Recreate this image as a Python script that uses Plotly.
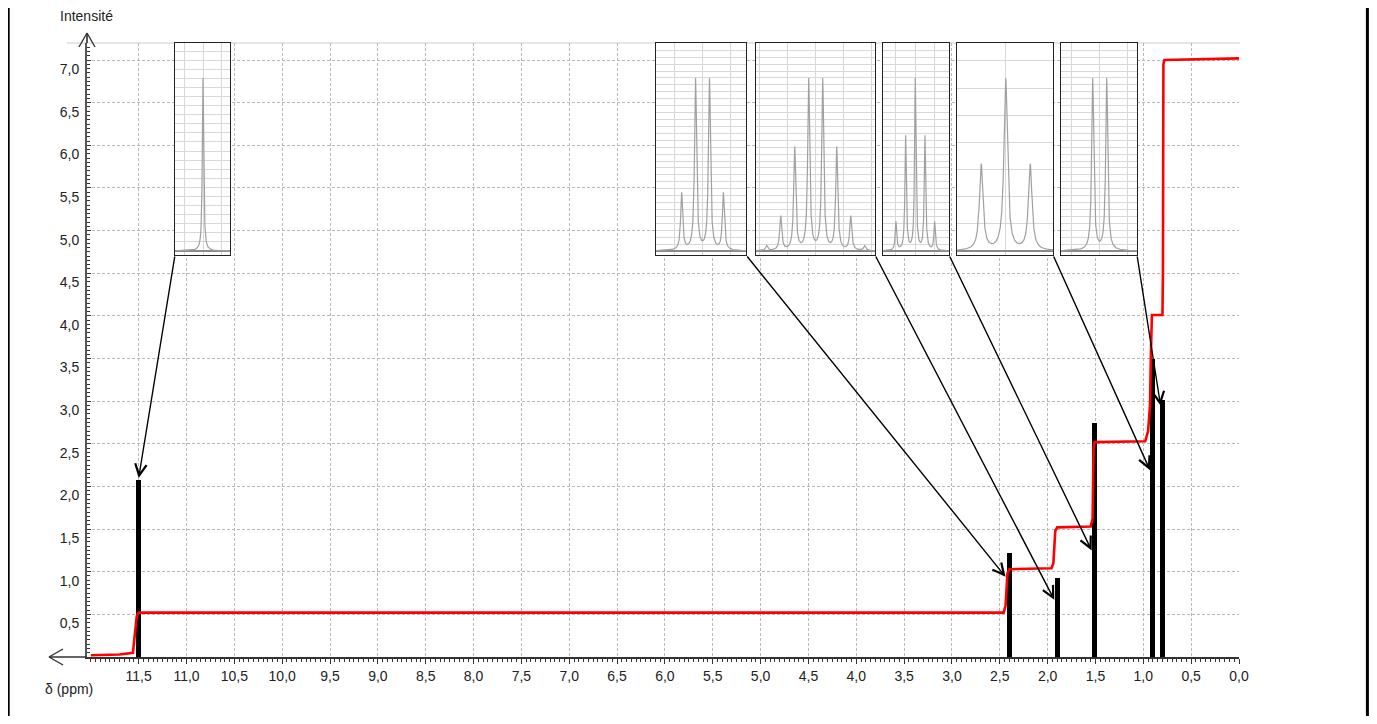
import numpy as np
import plotly.graph_objects as go

# ---------------- data ----------------
# integration curve (chemical shift in ppm, cumulated intensity)
integ_ppm = [12.0, 11.70, 11.56, 11.54, 11.52, 11.50, 2.46, 2.44, 2.42, 2.40,
             1.96, 1.94, 1.92, 1.90, 1.55, 1.53, 1.52, 1.51, 0.98, 0.95,
             0.93, 0.92, 0.91, 0.80, 0.795, 0.79, 0.78, 0.0]
integ_val = [0.02, 0.03, 0.05, 0.30, 0.48, 0.52, 0.52, 0.60, 0.98, 1.03,
             1.04, 1.10, 1.48, 1.52, 1.53, 1.62, 2.45, 2.52, 2.53, 2.65,
             2.95, 3.60, 4.01, 4.01, 4.50, 6.95, 7.00, 7.02]

# stick spectrum (signal positions and heights)
signal_ppm = [11.5, 2.4, 1.9, 1.51, 0.9, 0.8]
signal_height = [2.07, 1.22, 0.93, 2.74, 3.49, 3.01]

# arrow targets (ppm, intensity) for each zoomed multiplet
arrow_ppm = [11.5, 2.44, 1.93, 1.54, 0.93, 0.82]
arrow_val = [2.10, 0.94, 0.67, 1.25, 2.19, 2.95]

# multiplets shown in the zoom boxes (line offsets in J units, relative intensities)
mult_offsets = [
    [0],
    [-1.5, -0.5, 0.5, 1.5],
    [-3.5, -2.5, -1.5, -0.5, 0.5, 1.5, 2.5, 3.5],
    [-2, -1, 0, 1, 2],
    [-1, 0, 1],
    [-0.5, 0.5],
]
mult_intens = [
    [1],
    [1, 3, 3, 1],
    [1, 7, 21, 35, 35, 21, 7, 1],
    [1, 4, 6, 4, 1],
    [1, 2, 1],
    [1, 1],
]
J_HZ = 7.0
HWHM_HZ = 0.6

x_tick_vals = [11.5, 11.0, 10.5, 10.0, 9.5, 9.0, 8.5, 8.0, 7.5, 7.0, 6.5, 6.0,
               5.5, 5.0, 4.5, 4.0, 3.5, 3.0, 2.5, 2.0, 1.5, 1.0, 0.5, 0.0]
y_tick_vals = [0.5, 1.0, 1.5, 2.0, 2.5, 3.0, 3.5, 4.0, 4.5, 5.0, 5.5, 6.0, 6.5, 7.0]

# ---------------- layout geometry ----------------
OFF = 8                       # page margin of the html body
W, H = 1377 - 2 * OFF, 724 - 2 * OFF
S_LEFT, S_RIGHT, S_TOP, S_BOT = 87, 1239, 43, 657   # plot area on screen
L, T = S_LEFT - OFF, S_TOP - OFF
R, B = W - (S_RIGHT - OFF), H - (S_BOT - OFF)
PW, PH = S_RIGHT - S_LEFT, S_BOT - S_TOP
X_RANGE = [12.04, 0.0]
Y_RANGE = [0.0, 7.2]


def sx(px):
    """screen x pixel -> paper coordinate"""
    return (px - S_LEFT) / PW


def sy(py):
    """screen y pixel -> paper coordinate"""
    return (S_BOT - py) / PH


# zoom boxes (screen left, right, centre, px per Hz, horizontal grid step)
boxes = [
    (175, 230, 203.0, 1.30, 0.0525),
    (656, 746, 702.5, 1.986, 0.04),
    (756, 875, 815.7, 2.0, 0.04),
    (883, 949, 915.3, 1.381, 0.04),
    (957, 1053, 1005.7, 3.5, 0.157),
    (1061, 1137, 1099.7, 2.0, 0.04),
]
BOX_TOP, BOX_BOT = 43, 255
INSET_Y = [-0.023, 1.202]

FONT = "Liberation Sans, Arial, sans-serif"

fig = go.Figure()

# integration curve
fig.add_trace(go.Scatter(x=integ_ppm, y=integ_val, mode="lines",
                         line=dict(color="#ff0000", width=2.6),
                         hoverinfo="skip", showlegend=False))
# sticks
fig.add_trace(go.Bar(x=signal_ppm, y=signal_height, width=0.052,
                     marker=dict(color="black", line=dict(width=0)),
                     hoverinfo="skip", showlegend=False))

layout_axes = {}
shapes = []
annotations = []

for i, (bl, br, bc, scale, gstep) in enumerate(boxes):
    n = i + 2
    xr = [(bl - bc) / scale, (br - bc) / scale]
    offs = np.array(mult_offsets[i]) * J_HZ
    xs = np.sort(np.concatenate([np.linspace(xr[0], xr[1], 2500), offs]))
    ys = np.zeros_like(xs)
    for o, a in zip(offs, mult_intens[i]):
        ys += a * HWHM_HZ ** 2 / ((xs - o) ** 2 + HWHM_HZ ** 2)
    ys = ys / ys.max()
    fig.add_trace(go.Scatter(x=xs, y=ys, mode="lines", xaxis=f"x{n}", yaxis=f"y{n}",
                             line=dict(color="#a0a0a0", width=1.2),
                             hoverinfo="skip", showlegend=False))
    layout_axes[f"xaxis{n}"] = dict(domain=[sx(bl), sx(br)], range=xr, anchor=f"y{n}",
                                    showticklabels=False, ticks="",
                                    showgrid=True, gridcolor="#d8d8d8", gridwidth=1,
                                    dtick=14, tick0=0, zeroline=False,
                                    showline=True, mirror=True, linecolor="#222",
                                    linewidth=1.2, fixedrange=True)
    layout_axes[f"yaxis{n}"] = dict(domain=[sy(BOX_BOT), sy(BOX_TOP)], range=INSET_Y,
                                    anchor=f"x{n}",
                                    showticklabels=False, ticks="",
                                    showgrid=True, gridcolor="#d8d8d8", gridwidth=1,
                                    dtick=gstep, tick0=0,
                                    zeroline=True, zerolinecolor="#8a8a8a", zerolinewidth=2,
                                    showline=True, mirror=True, linecolor="#222",
                                    linewidth=1.2, fixedrange=True)
    # arrow from the box corner to the signal
    cx = bl if i == 0 else br
    tail_ppm = X_RANGE[0] + (X_RANGE[1] - X_RANGE[0]) * sx(cx)
    tail_val = Y_RANGE[0] + (Y_RANGE[1] - Y_RANGE[0]) * sy(BOX_BOT)
    annotations.append(dict(x=arrow_ppm[i], y=arrow_val[i], xref="x", yref="y",
                            ax=tail_ppm, ay=tail_val, axref="x", ayref="y",
                            text="", showarrow=True, arrowhead=5, arrowsize=1.6,
                            arrowwidth=1.4, arrowcolor="black"))

# axis arrows and frame decorations
ax_col = "#333333"
y_tip = sy(33)
x_tip = sx(49)
shapes += [
    # y axis extension + arrow head
    dict(type="line", xref="paper", yref="paper", x0=0, x1=0, y0=1, y1=y_tip,
         line=dict(color="#555", width=2)),
    dict(type="line", xref="paper", yref="paper", x0=0, y0=y_tip,
         x1=sx(S_LEFT - 8), y1=sy(47), line=dict(color=ax_col, width=1.4)),
    dict(type="line", xref="paper", yref="paper", x0=0, y0=y_tip,
         x1=sx(S_LEFT + 8), y1=sy(47), line=dict(color=ax_col, width=1.4)),
    # x axis extension + arrow head
    dict(type="line", xref="paper", yref="paper", x0=x_tip, x1=0, y0=0, y1=0,
         line=dict(color=ax_col, width=1.5)),
    dict(type="line", xref="paper", yref="paper", x0=x_tip, y0=0,
         x1=sx(63), y1=sy(S_BOT - 8), line=dict(color=ax_col, width=1.4)),
    dict(type="line", xref="paper", yref="paper", x0=x_tip, y0=0,
         x1=sx(63), y1=sy(S_BOT + 8), line=dict(color=ax_col, width=1.4)),
    # top frame line
    dict(type="line", xref="paper", yref="paper", x0=sx(67), x1=sx(1240),
         y0=1, y1=1, line=dict(color="#c9cce0", width=1.2), layer="below"),
    # page border
    dict(type="line", xref="paper", yref="paper", x0=sx(OFF + 0.6), x1=sx(OFF + 0.6),
         y0=sy(-5), y1=sy(H + OFF + 5), line=dict(color="black", width=2.2)),
    dict(type="line", xref="paper", yref="paper", x0=sx(OFF + W - 1.6), x1=sx(OFF + W - 1.6),
         y0=sy(-5), y1=sy(H + OFF + 5), line=dict(color="black", width=3)),
]

annotations += [
    dict(text="Intensité", xref="paper", yref="paper", x=sx(86), y=sy(16),
         showarrow=False, font=dict(size=14, color="#222", family=FONT),
         xanchor="center", yanchor="middle"),
    dict(text="δ (ppm)", xref="paper", yref="paper", x=sx(43), y=sy(689),
         showarrow=False, font=dict(size=14, color="#222", family=FONT),
         xanchor="left", yanchor="middle"),
]

fig.update_layout(
    width=W, height=H, autosize=False,
    margin=dict(l=L, r=R, t=T, b=B, pad=0),
    paper_bgcolor="white", plot_bgcolor="white",
    separators=", ",
    showlegend=False,
    bargap=0,
    font=dict(family=FONT, size=14, color="#222"),
    xaxis=dict(range=X_RANGE, tickvals=x_tick_vals, tickformat=".1f",
               showgrid=True, gridcolor="#b8b8b8", griddash="3px,2px", gridwidth=1,
               zeroline=False, showline=True, linecolor=ax_col, linewidth=1.5,
               ticks="outside", ticklen=5, tickcolor=ax_col, tickwidth=1,
               minor=dict(dtick=0.05, ticks="outside", ticklen=3, tickcolor=ax_col,
                          showgrid=False),
               tickfont=dict(size=14, color="#222", family=FONT), fixedrange=True),
    yaxis=dict(range=Y_RANGE, tickvals=y_tick_vals, tickformat=".1f",
               showgrid=True, gridcolor="#b8b8b8", griddash="3px,2px", gridwidth=1,
               zeroline=False, showline=True, linecolor="#555", linewidth=2,
               ticks="inside", ticklen=4, tickcolor=ax_col, tickwidth=1,
               minor=dict(dtick=0.05, ticks="inside", ticklen=2.5, tickcolor=ax_col,
                          showgrid=False),
               ticklabelshift=9, ticklabelstandoff=3,
               tickfont=dict(size=14, color="#222", family=FONT), fixedrange=True),
    shapes=shapes,
    annotations=annotations,
    **layout_axes,
)

fig.write_html("out.html")
